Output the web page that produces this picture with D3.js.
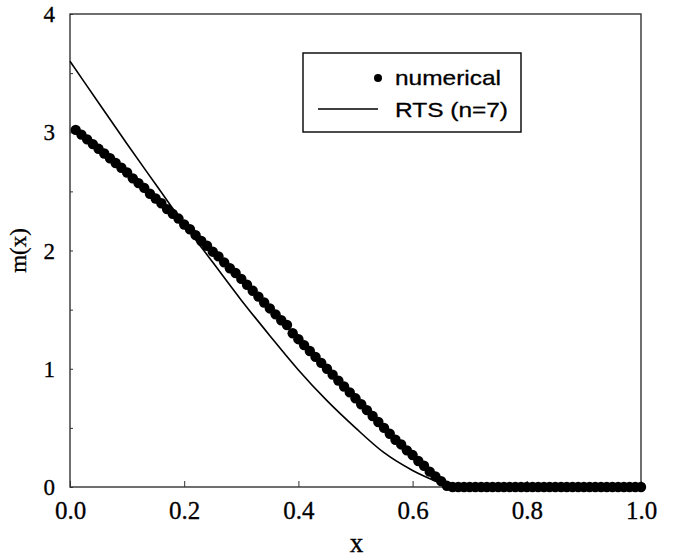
<html>
<head>
<script src="https://cdnjs.cloudflare.com/ajax/libs/d3/7.8.5/d3.min.js"></script>
<style>
  body { margin: 0; background: #fff; }
  svg { display: block; }
</style>
</head>
<body>
<svg width="684" height="557"></svg>
<script>
// numerical solution, x = 0.01 ... 1.00
const numX = d3.range(1, 101).map(i => i / 100);
const numM = [
  3.02, 2.98, 2.94, 2.90, 2.86, 2.82, 2.78, 2.74, 2.70, 2.66,
  2.61, 2.57, 2.53, 2.48, 2.44, 2.40, 2.35, 2.31, 2.27, 2.22,
  2.18, 2.13, 2.08, 2.04, 1.99, 1.95, 1.90, 1.85, 1.81, 1.76,
  1.71, 1.66, 1.61, 1.56, 1.51, 1.46, 1.41, 1.37, 1.30, 1.25,
  1.20, 1.15, 1.10, 1.05, 1.00, 0.95, 0.90, 0.85, 0.80, 0.75,
  0.70, 0.65, 0.60, 0.55, 0.50, 0.45, 0.40, 0.36, 0.31, 0.27,
  0.22, 0.18, 0.13, 0.09, 0.05, 0.01, 0, 0, 0, 0,
  0, 0, 0, 0, 0, 0, 0, 0, 0, 0,
  0, 0, 0, 0, 0, 0, 0, 0, 0, 0,
  0, 0, 0, 0, 0, 0, 0, 0, 0, 0
];

// RTS (n=7) curve
const rtsX = [0.00, 0.05, 0.10, 0.15, 0.20, 0.25, 0.30, 0.35, 0.40, 0.45, 0.50, 0.55, 0.60, 0.65, 0.665];
const rtsM = [3.60, 3.25, 2.90, 2.56, 2.22, 1.90, 1.58, 1.28, 0.99, 0.73, 0.50, 0.29, 0.14, 0.03, 0.0];

const xTicks = [0, 0.2, 0.4, 0.6, 0.8, 1.0];
const yTicks = [0, 1, 2, 3, 4];

const svg = d3.select("svg");
const mLeft = 70, mRight = 641, mTop = 14, mBottom = 487;

const x = d3.scaleLinear().domain([0, 1]).range([mLeft, mRight]);
const y = d3.scaleLinear().domain([0, 4]).range([mBottom, mTop]);

const serif = "'Liberation Serif', 'Times New Roman', serif";
const sans = "'Liberation Sans', Arial, Helvetica, sans-serif";

// frame
svg.append("rect")
  .attr("x", mLeft).attr("y", mTop)
  .attr("width", mRight - mLeft).attr("height", mBottom - mTop)
  .attr("fill", "none").attr("stroke", "#333").attr("stroke-width", 1.4);

// x axis ticks (inside)
const xAxis = svg.append("g").attr("transform", `translate(0,${mBottom})`)
  .call(d3.axisBottom(x).tickValues(xTicks).tickSizeInner(-6).tickSizeOuter(0).tickFormat(d3.format(".1f")).tickPadding(14));
xAxis.select(".domain").remove();
xAxis.selectAll("line").attr("stroke", "#333");
xAxis.selectAll("text").attr("font-family", serif).attr("font-size", 25).attr("fill", "#000")
  .attr("stroke", "#000").attr("stroke-width", 0.3);

// y axis ticks (inside, every 0.5)
const yAxis = svg.append("g").attr("transform", `translate(${mLeft},0)`)
  .call(d3.axisLeft(y).tickValues(d3.range(0, 4.01, 0.5)).tickSizeInner(-3).tickSizeOuter(0).tickFormat(""));
yAxis.select(".domain").remove();
yAxis.selectAll("line").attr("stroke", "#333");

svg.append("g").selectAll("text").data(yTicks).join("text")
  .attr("x", 55).attr("y", d => y(d) + 8)
  .attr("text-anchor", "end")
  .attr("font-family", serif).attr("font-size", 23)
  .attr("stroke", "#000").attr("stroke-width", 0.3)
  .text(d => d);

// axis titles
svg.append("text")
  .attr("x", (mLeft + mRight) / 2 + 1).attr("y", 552)
  .attr("text-anchor", "middle")
  .attr("font-family", serif).attr("font-size", 27)
  .attr("stroke", "#000").attr("stroke-width", 0.4)
  .text("x");

svg.append("text")
  .attr("transform", `translate(26,${(mTop + mBottom) / 2}) rotate(-90)`)
  .attr("text-anchor", "middle")
  .attr("font-family", serif).attr("font-size", 23)
  .attr("stroke", "#000").attr("stroke-width", 0.3)
  .text("m(x)");

// RTS line
const line = d3.line().x(d => x(d[0])).y(d => y(d[1])).curve(d3.curveMonotoneX);
svg.append("path")
  .datum(d3.zip(rtsX, rtsM))
  .attr("d", line)
  .attr("fill", "none").attr("stroke", "#000").attr("stroke-width", 1.6);

// numerical dots
svg.append("g").selectAll("circle").data(d3.zip(numX, numM)).join("circle")
  .attr("cx", d => x(d[0])).attr("cy", d => y(d[1]))
  .attr("r", 5.2).attr("fill", "#000");

// legend
const lg = svg.append("g");
lg.append("rect")
  .attr("x", 303).attr("y", 53).attr("width", 218).attr("height", 79)
  .attr("fill", "#fff").attr("stroke", "#000").attr("stroke-width", 1.4);
lg.append("circle").attr("cx", 378).attr("cy", 78).attr("r", 4).attr("fill", "#000");
lg.append("text").attr("x", 395).attr("y", 85)
  .attr("font-family", sans).attr("font-size", 21)
  .attr("stroke", "#000").attr("stroke-width", 0.3)
  .attr("textLength", 106).attr("lengthAdjust", "spacingAndGlyphs")
  .text("numerical");
lg.append("line").attr("x1", 318).attr("x2", 378).attr("y1", 109).attr("y2", 109)
  .attr("stroke", "#000").attr("stroke-width", 1.5);
lg.append("text").attr("x", 395).attr("y", 117)
  .attr("font-family", sans).attr("font-size", 21)
  .attr("stroke", "#000").attr("stroke-width", 0.3)
  .attr("textLength", 113).attr("lengthAdjust", "spacingAndGlyphs")
  .text("RTS (n=7)");
</script>
</body>
</html>
